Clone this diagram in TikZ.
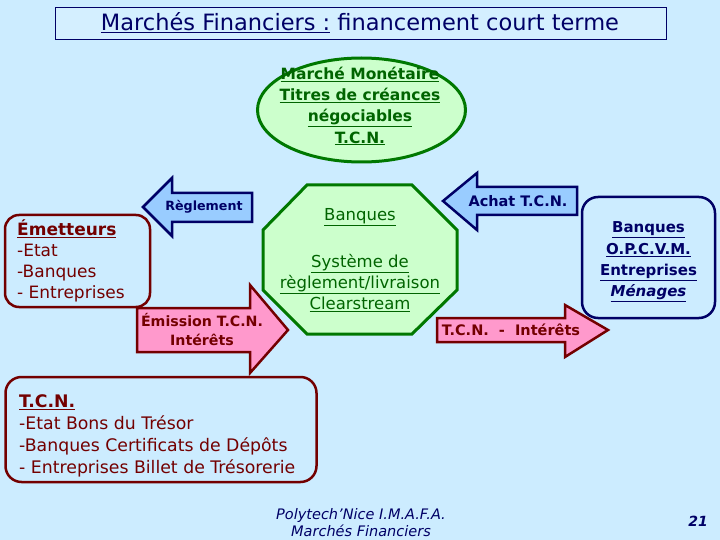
\documentclass[tikz,border=0pt]{standalone}
\usepackage{fontspec}
\setmainfont{DejaVu Sans}
\usetikzlibrary{shapes.geometric}
\definecolor{bgblue}{RGB}{204,236,255}
\definecolor{navy}{RGB}{0,0,102}
\definecolor{darkred}{RGB}{115,0,0}
\definecolor{dgreen}{RGB}{0,120,0}
\definecolor{tgreen}{RGB}{0,100,0}
\definecolor{lgreen}{RGB}{204,255,204}
\definecolor{lblue}{RGB}{153,204,255}
\definecolor{pink}{RGB}{255,153,204}
\tikzset{
  titlebox/.style={draw=navy,line width=1pt,fill=bgblue!85!white,minimum width=611pt,minimum height=32pt,inner sep=0pt},
  greenshape/.style={draw=dgreen,line width=3pt,fill=lgreen},
  redbox/.style={draw=darkred,line width=2.5pt,rounded corners=14pt,inner sep=0pt},
  bluebox/.style={draw=navy,line width=2.5pt,rounded corners=16pt,inner sep=0pt},
  bluearrow/.style={draw=navy,line width=2.5pt,fill=lblue,line join=miter},
  pinkarrow/.style={draw=darkred,line width=2.5pt,fill=pink,line join=miter},
  txt/.style={inner sep=0pt,font=\fontsize{16pt}{21pt}\selectfont},
}
\begin{document}
\begin{tikzpicture}[x=1pt,y=-1pt]
\fill[bgblue] (0,0) rectangle (720,540);
\useasboundingbox (0,0) rectangle (720,540);

% title
\node[titlebox] (title) at (360.5,24) {};
\node[txt,text=navy,font=\fontsize{22.5pt}{24pt}\selectfont] (titletext) at (360,23) {\underline{Marchés Financiers :} financement court terme};

% ellipse
\node[ellipse,greenshape,minimum width=208pt,minimum height=104pt,inner sep=0pt] (mm) at (361.5,110) {};
\node[txt,align=center,text=tgreen,font=\bfseries\fontsize{15.5pt}{21.3pt}\selectfont] (mmtext) at (360,106) {\underline{Marché Monétaire}\\\underline{Titres de créances}\\\underline{négociables}\\\underline{T.C.N.}};

% octagon
\draw[greenshape] (307,185) -- (412,185) -- (457,230) -- (457,290) -- (412,334) -- (307,334) -- (263,290) -- (263,230) -- cycle;
\node[txt,text=tgreen,font=\fontsize{16.5pt}{21pt}\selectfont] (banq) at (360,217) {\underline{Banques}};
\node[txt,align=center,text=tgreen,font=\fontsize{16.5pt}{21pt}\selectfont] (sys) at (360,283) {\underline{Système de}\\\underline{règlement/livraison}\\\underline{Clearstream}};

% Emetteurs box
\node[redbox,minimum width=145pt,minimum height=92pt] (emet) at (77.5,261) {};
\node[txt,anchor=west,align=left,text=darkred,font=\fontsize{17pt}{21pt}\selectfont] (emettext) at (17,261) {\textbf{\underline{Émetteurs}}\\-Etat\\-Banques\\- Entreprises};

% right box
\node[bluebox,minimum width=133pt,minimum height=121pt] (inv) at (648.5,257.5) {};
\node[txt,align=center,text=navy,font=\bfseries\fontsize{15pt}{21.3pt}\selectfont] (invtext) at (648.5,262) {\underline{Banques}\\\underline{O.P.C.V.M.}\\\underline{Entreprises}\\\underline{\itshape Ménages}};

% TCN box
\node[redbox,minimum width=311pt,minimum height=105pt,rounded corners=16pt] (tcn) at (161,429.5) {};
\node[txt,anchor=west,align=left,text=darkred,font=\fontsize{17.3pt}{22pt}\selectfont] (tcntext) at (19,435.5) {\textbf{\underline{T.C.N.}}\\-Etat Bons du Trésor\\-Banques Certificats de Dépôts\\- Entreprises Billet de Trésorerie};

% Reglement arrow
\draw[bluearrow] (252,193) -- (172,193) -- (172,178) -- (143,207) -- (172,236) -- (172,222) -- (252,222) -- cycle;
\node[txt,text=navy,font=\bfseries\fontsize{12.7pt}{16pt}\selectfont] (regl) at (204,207) {Règlement};

% Achat arrow
\draw[bluearrow] (577,187) -- (477,187) -- (477,173) -- (443,201) -- (477,230) -- (477,215) -- (577,215) -- cycle;
\node[txt,text=navy,font=\bfseries\fontsize{14.5pt}{16pt}\selectfont] (achat) at (518,201) {Achat T.C.N.};

% Emission arrow
\draw[pinkarrow] (137,308) -- (250,308) -- (250,285) -- (288,330) -- (250,373) -- (250,352) -- (137,352) -- cycle;
\node[txt,align=center,text=darkred,font=\bfseries\fontsize{14.2pt}{19pt}\selectfont] (emis) at (202,330) {Émission T.C.N.\\Intérêts};

% TCN - Interets arrow
\draw[pinkarrow] (437,318) -- (565,318) -- (565,305) -- (608,330) -- (565,357) -- (565,342) -- (437,342) -- cycle;
\node[txt,text=darkred,font=\bfseries\fontsize{14.5pt}{16pt}\selectfont] (ti) at (511,330) {T.C.N.\ \ -\ \ Intérêts};

% footer
\node[txt,align=center,text=navy,font=\itshape\fontsize{14.5pt}{17pt}\selectfont] (foot) at (361,523) {Polytech'Nice I.M.A.F.A.\\Marchés Financiers};
\node[txt,text=navy,font=\itshape\bfseries\fontsize{14pt}{16pt}\selectfont] (num) at (698,521) {21};
\end{tikzpicture}
\end{document}
